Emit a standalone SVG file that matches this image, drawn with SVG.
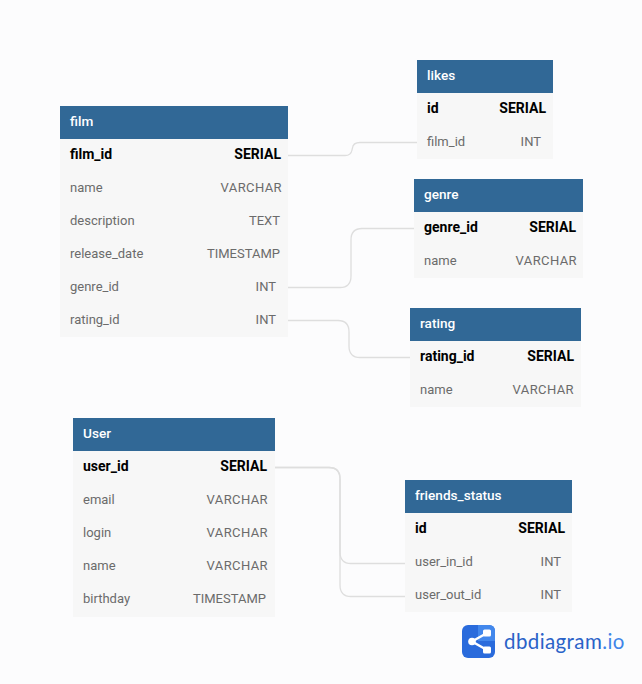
<svg xmlns="http://www.w3.org/2000/svg" width="642" height="684" viewBox="0 0 642 684">
<style>
text{font-family:Roboto,"Liberation Sans",sans-serif;font-size:13px}
.body{fill:#f7f7f7}
.head{fill:#316896}
.title{fill:#fff;font-weight:500;font-size:13.600px}
.pk{fill:#000;font-weight:700;font-size:14px}
.f{fill:#6b6b6b}
.v{letter-spacing:.4px}
.r{text-anchor:end}
#connectors path{fill:none;stroke:#dedede;stroke-width:1.3}
</style>
<rect width="642" height="684" fill="#fcfcfd"/>
<g id="connectors">
<path d="M288 155.500H345Q351 155.500 352 150L352.500 148Q353 142.500 360 142.500H417"/>
<path d="M288 287.500H340Q351 287.500 351 276V240Q351 228.500 362 228.500H414"/>
<path d="M288 320.500H338Q349 320.500 349 332V346Q349 357.500 360 357.500H410"/>
<path d="M274 467.500H329Q340 467.500 340 479V552Q340 563.500 351 563.500H405"/>
<path d="M274 467.500H329Q340 467.500 340 479V585Q340 596.500 351 596.500H405"/>
</g>
<g id="film">
<rect class="body" x="60" y="106" width="228" height="231"/><rect class="head" x="60" y="106" width="228" height="33"/>
<text class="title" x="70" y="126">film</text>
<text class="pk" x="70" y="159">film_id</text><text class="pk r" x="281" y="159">SERIAL</text>
<text class="f" x="70" y="192">name</text><text class="f r v" x="282" y="192">VARCHAR</text>
<text class="f" x="70" y="225">description</text><text class="f r" x="280" y="225">TEXT</text>
<text class="f" x="70" y="258">release_date</text><text class="f r" x="280" y="258">TIMESTAMP</text>
<text class="f" x="70" y="291">genre_id</text><text class="f r" x="276" y="291">INT</text>
<text class="f" x="70" y="324">rating_id</text><text class="f r" x="276" y="324">INT</text>
</g>
<g id="likes">
<rect class="body" x="417" y="60" width="136" height="99"/><rect class="head" x="417" y="60" width="136" height="33"/>
<text class="title" x="427" y="80">likes</text>
<text class="pk" x="427" y="113">id</text><text class="pk r" x="546" y="113">SERIAL</text>
<text class="f" x="427" y="146">film_id</text><text class="f r" x="541" y="146">INT</text>
</g>
<g id="genre">
<rect class="body" x="414" y="179" width="169" height="99"/><rect class="head" x="414" y="179" width="169" height="33"/>
<text class="title" x="424" y="199">genre</text>
<text class="pk" x="424" y="232">genre_id</text><text class="pk r" x="576" y="232">SERIAL</text>
<text class="f" x="424" y="265">name</text><text class="f r v" x="577" y="265">VARCHAR</text>
</g>
<g id="rating">
<rect class="body" x="410" y="308" width="171" height="99"/><rect class="head" x="410" y="308" width="171" height="33"/>
<text class="title" x="420" y="328">rating</text>
<text class="pk" x="420" y="361">rating_id</text><text class="pk r" x="574" y="361">SERIAL</text>
<text class="f" x="420" y="394">name</text><text class="f r v" x="574" y="394">VARCHAR</text>
</g>
<g id="User">
<rect class="body" x="73" y="418" width="202" height="199"/><rect class="head" x="73" y="418" width="202" height="33"/>
<text class="title" x="83" y="438">User</text>
<text class="pk" x="83" y="471">user_id</text><text class="pk r" x="267" y="471">SERIAL</text>
<text class="f" x="83" y="504">email</text><text class="f r v" x="268" y="504">VARCHAR</text>
<text class="f" x="83" y="537">login</text><text class="f r v" x="268" y="537">VARCHAR</text>
<text class="f" x="83" y="570">name</text><text class="f r v" x="268" y="570">VARCHAR</text>
<text class="f" x="83" y="603">birthday</text><text class="f r" x="266" y="603">TIMESTAMP</text>
</g>
<g id="friends_status">
<rect class="body" x="405" y="480" width="167" height="132"/><rect class="head" x="405" y="480" width="167" height="33"/>
<text class="title" x="415" y="500">friends_status</text>
<text class="pk" x="415" y="533">id</text><text class="pk r" x="565" y="533">SERIAL</text>
<text class="f" x="415" y="566">user_in_id</text><text class="f r" x="561" y="566">INT</text>
<text class="f" x="415" y="599">user_out_id</text><text class="f r" x="561" y="599">INT</text>
</g>
<g id="logo">
<rect x="462" y="625" width="33" height="33" rx="6" fill="#2a6bdc"/>
<path d="M478 625H489Q495 625 495 631V641H478Z" fill="#4287ec"/>
<path d="M487 633L472 641.500L487 650" fill="none" stroke="#fff" stroke-width="2.500"/>
<circle cx="472" cy="641.500" r="3.800" fill="#fff"/><rect x="483" y="629.500" width="8" height="7" rx="1.500" fill="#fff"/><rect x="483" y="646.500" width="8" height="7" rx="1.500" fill="#fff"/>
<text x="504" y="649" style="font-family:Lato,'Open Sans',sans-serif;font-size:20.500px;letter-spacing:.4px" fill="#2a62c8">dbdiagram<tspan fill="#3f85e8">.io</tspan></text>
</g>
</svg>
